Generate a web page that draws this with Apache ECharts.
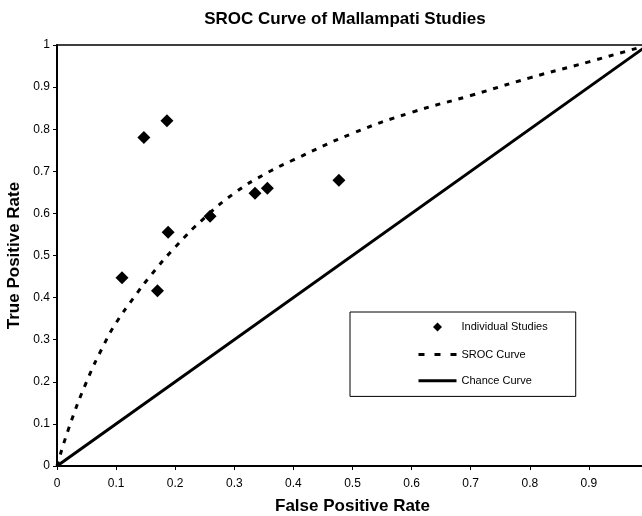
<!DOCTYPE html>
<html>
<head>
<meta charset="utf-8">
<script src="https://cdn.jsdelivr.net/npm/echarts@6/dist/echarts.min.js"></script>
<style>
  html, body { margin: 0; padding: 0; background: #fff; }
  #chart { width: 642px; height: 516px; }
</style>
</head>
<body>
<div id="chart"></div>
<script>
// individual studies (FPR, TPR)
const studyFpr = [0.11, 0.147, 0.186, 0.17, 0.188, 0.259, 0.335, 0.356, 0.477];
const studyTpr = [0.447, 0.78, 0.82, 0.416, 0.555, 0.593, 0.648, 0.66, 0.679];

// SROC curve
const srocFpr = [0, 0.02, 0.05, 0.08, 0.1, 0.13, 0.16, 0.2, 0.25, 0.3, 0.35, 0.4, 0.5, 0.6, 0.7, 0.8, 0.9, 1];
const srocTpr = [0, 0.09, 0.2, 0.29, 0.34, 0.4, 0.455, 0.52, 0.59, 0.648, 0.692, 0.727, 0.79, 0.84, 0.88, 0.922, 0.96, 1];

// chance line
const chanceFpr = [0, 1];
const chanceTpr = [0, 1];

const zip = (xs, ys) => xs.map((x, i) => [x, ys[i]]);
const fmt = (v) => String(+v.toFixed(1));

const font = 'Liberation Sans, Arial, sans-serif';
// small diamond inside a 14x14 box for the legend
const legendDiamond = 'path://M0,0 M14,14 M7,2.5 L11.5,7 L7,11.5 L2.5,7 Z';

const chart = echarts.init(document.getElementById('chart'));
chart.setOption({
  animation: false,
  title: {
    text: 'SROC Curve of Mallampati Studies',
    left: 340,
    top: 6,
    textAlign: 'center',
    textStyle: { fontFamily: font, fontSize: 17, fontWeight: 'bold', color: '#000' },
  },
  grid: {
    left: 57,
    top: 45,
    width: 591,
    bottom: 50,
    containLabel: false,
    outerBoundsMode: 'none',
    show: true,
    borderColor: '#000',
    borderWidth: 1.5,
  },
  legend: {
    orient: 'vertical',
    left: 350,
    top: 312,
    padding: [8, 28, 10, 67],
    itemWidth: 38,
    itemHeight: 14,
    itemGap: 15,
    textGap: 3,
    symbolKeepAspect: true,
    backgroundColor: '#fff',
    borderColor: '#000',
    borderWidth: 1,
    textStyle: { fontFamily: font, fontSize: 11, color: '#000' },
    data: [
      { name: 'Individual Studies', icon: legendDiamond, itemStyle: { color: '#000', opacity: 1 } },
      { name: 'SROC Curve', itemStyle: { opacity: 0 }, lineStyle: { color: '#000', width: 3, type: [6, 10] } },
      { name: 'Chance Curve', itemStyle: { opacity: 0 }, lineStyle: { color: '#000', width: 3 } },
    ],
  },
  xAxis: {
    type: 'value',
    min: 0,
    max: 1,
    interval: 0.1,
    name: 'False Positive Rate',
    nameLocation: 'middle',
    nameGap: 32,
    nameTextStyle: { fontFamily: font, fontSize: 17, fontWeight: 'bold', color: '#000' },
    axisLine: { onZero: false, lineStyle: { color: '#000', width: 2 } },
    axisTick: { show: true, length: 4, lineStyle: { color: '#000' } },
    axisLabel: { fontFamily: font, fontSize: 12, color: '#000', margin: 12, formatter: fmt },
    splitLine: { show: false },
  },
  yAxis: {
    type: 'value',
    min: 0,
    max: 1,
    interval: 0.1,
    name: 'True Positive Rate',
    nameLocation: 'middle',
    nameGap: 31,
    nameTextStyle: { fontFamily: font, fontSize: 17, fontWeight: 'bold', color: '#000' },
    axisLine: { show: true, onZero: false, lineStyle: { color: '#000', width: 2 } },
    axisTick: { show: true, length: 4, lineStyle: { color: '#000' } },
    axisLabel: { fontFamily: font, fontSize: 12, color: '#000', margin: 7, formatter: fmt },
    splitLine: { show: false },
  },
  series: [
    {
      name: 'Chance Curve',
      type: 'line',
      data: zip(chanceFpr, chanceTpr),
      symbol: 'none',
      lineStyle: { color: '#000', width: 3 },
      itemStyle: { color: '#000' },
      z: 2,
    },
    {
      name: 'SROC Curve',
      type: 'line',
      data: zip(srocFpr, srocTpr),
      smooth: true,
      symbol: 'none',
      lineStyle: { color: '#000', width: 3, type: [5, 7] },
      itemStyle: { color: '#000' },
      z: 3,
    },
    {
      name: 'Individual Studies',
      type: 'scatter',
      data: zip(studyFpr, studyTpr),
      symbol: 'diamond',
      symbolSize: 13,
      itemStyle: { color: '#000', opacity: 1 },
      z: 4,
    },
  ],
});
</script>
</body>
</html>
